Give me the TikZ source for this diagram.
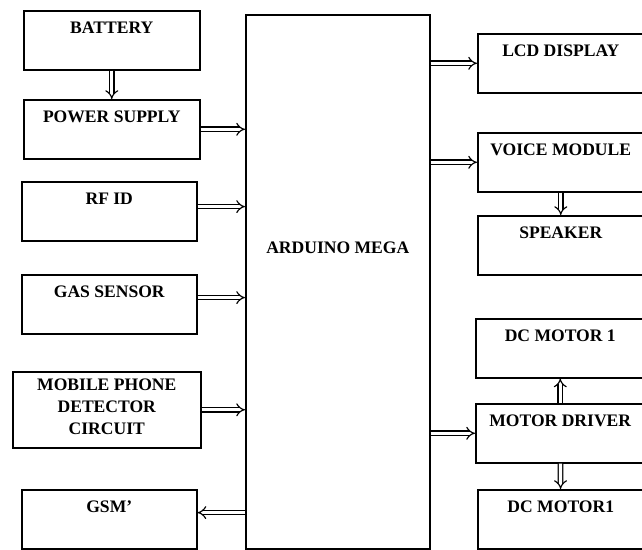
\documentclass[tikz,border=0pt]{standalone}
\usepackage{fontspec}
\setmainfont{Liberation Serif}
\usetikzlibrary{arrows.meta,positioning}

\newcommand{\blkfont}{\fontsize{15}{18.5}\selectfont\bfseries}

\begin{document}
\begin{tikzpicture}[
  x=0.03cm, y=-0.03cm,
  blk/.style={draw, line width=1.3pt, anchor=north west, inner sep=0pt, minimum height=1.77cm},
  lbl/.style={font=\blkfont, anchor=north, inner sep=0pt, yshift=-0.36cm, align=center},
  link/.style={double, double distance=2.8pt, line width=1pt, -{Implies}}
]

  \useasboundingbox (0,0) rectangle (642,549);

  % Left blocks
  \node[blk, minimum width=5.28cm, label={[lbl]north:BATTERY}] (bat) at (23,10) {};
  \node[blk, minimum width=5.28cm, label={[lbl]north:POWER SUPPLY}] (ps) at (23,99) {};
  \node[blk, minimum width=5.25cm, label={[lbl]north:RF ID}] (rfid) at (21,181) {};
  \node[blk, minimum width=5.25cm, label={[lbl]north:GAS SENSOR}] (gas) at (21,274) {};
  \node[blk, minimum width=5.64cm, minimum height=2.28cm,
        label={[lbl, yshift=0.12cm]north:MOBILE PHONE\\DETECTOR\\CIRCUIT}] (mob) at (12,371) {};
  \node[blk, minimum width=5.25cm, label={[lbl]north:GSM'}] (gsm) at (21,489) {};

  % Controller
  \node[blk, minimum width=5.52cm, minimum height=16.02cm,
        label={[lbl, yshift=-6.48cm]north:ARDUINO MEGA}] (ard) at (245,14) {};

  % Right blocks
  \node[blk, minimum width=4.98cm, label={[lbl]north:LCD DISPLAY}] (lcd) at (477,33) {};
  \node[blk, minimum width=4.98cm, label={[lbl]north:VOICE MODULE}] (voice) at (477,132) {};
  \node[blk, minimum width=4.98cm, label={[lbl]north:SPEAKER}] (spk) at (477,215) {};
  \node[blk, minimum width=5.07cm, label={[lbl]north:DC MOTOR 1}] (dcmA) at (475,318) {};
  \node[blk, minimum width=5.07cm, label={[lbl]north:MOTOR DRIVER}] (drv) at (475,403) {};
  \node[blk, minimum width=4.98cm, label={[lbl]north:DC MOTOR1}] (dcmB) at (477,489) {};

  % Port points
  \coordinate (rfout) at ([yshift=0.14cm]rfid.east);
  \coordinate (gasout) at ([yshift=0.2cm]gas.east);
  \coordinate (gsmin) at ([yshift=0.2cm]gsm.east);

  % Links
  \draw[link] (bat) -- (ps);
  \draw[link] (ps.east) -- (ard.west |- ps.east);
  \draw[link] (rfout) -- (ard.west |- rfout);
  \draw[link] (gasout) -- (ard.west |- gasout);
  \draw[link] (mob.east) -- (ard.west |- mob.east);
  \draw[link] (ard.west |- gsmin) -- (gsmin);

  \draw[link] (ard.east |- lcd.west) -- (lcd.west);
  \draw[link] (ard.east |- voice.west) -- (voice.west);
  \draw[link] (ard.east |- drv.west) -- (drv.west);
  \draw[link] (voice) -- (spk);
  \draw[link] (drv) -- (dcmA);
  \draw[link] (drv) -- (dcmB);

\end{tikzpicture}
\end{document}
